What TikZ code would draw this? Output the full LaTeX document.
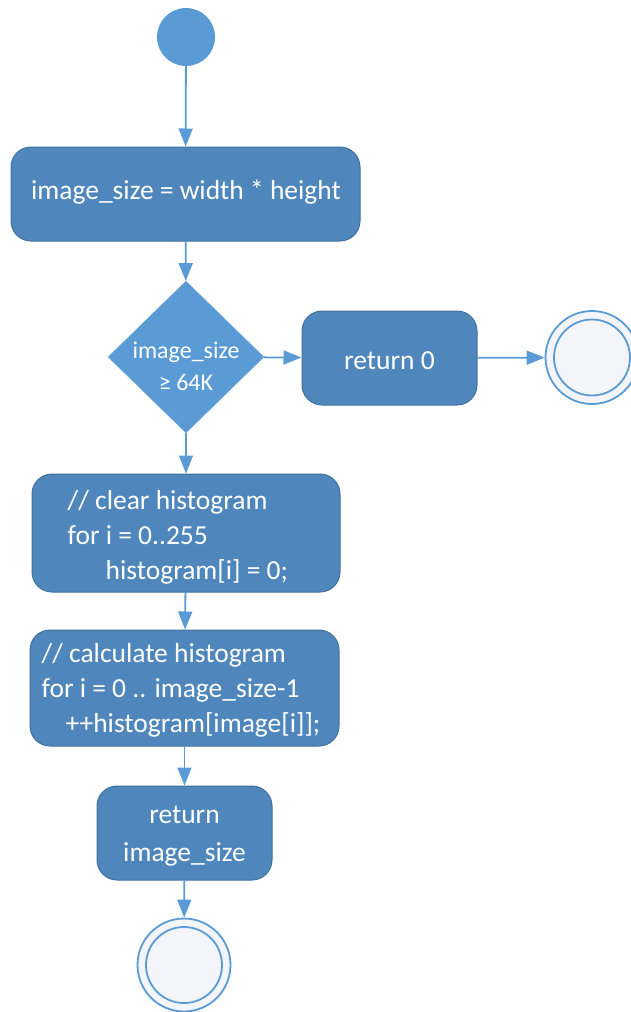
\documentclass[tikz,border=0pt]{standalone}
\usepackage{fontspec}
\setmainfont{Carlito}
\usetikzlibrary{arrows.meta,shapes.geometric}
\definecolor{boxfill}{HTML}{4F87BD}
\definecolor{boxline}{HTML}{41719C}
\definecolor{lightblue}{HTML}{5B9BD5}
\definecolor{endfill}{HTML}{F3F5FB}
\tikzset{
  box/.style={draw=boxline, line width=1pt, fill=boxfill, rounded corners=20pt, inner sep=0pt},
  txt/.style={text=white, inner sep=0pt, font=\fontsize{27.5}{35}\selectfont},
  flow/.style={draw=lightblue, line width=1.8pt, -{Triangle[length=18pt,width=14pt]}},
  dec/.style={diamond, draw=lightblue!80!white, fill=lightblue, inner sep=0pt, minimum width=156pt, minimum height=152pt},
  dectxt/.style={text=white, align=center, inner sep=0pt, font=\fontsize{24}{32}\selectfont},
  startnode/.style={circle, fill=lightblue, minimum size=58pt, inner sep=0pt},
  endouter/.style={circle, draw=lightblue, line width=1.8pt, fill=endfill, minimum size=93pt, inner sep=0pt},
  endinner/.style={circle, draw=lightblue, line width=1.8pt, minimum size=76pt, inner sep=0pt},
}
\begin{document}
\begin{tikzpicture}[x=1pt,y=-1pt]
\useasboundingbox (0,0) rectangle (631,1012);
\node[startnode] (s) at (186,37) {};
\node[box, minimum width=349pt, minimum height=94pt] (b1) at (185.5,194) {};
\node[txt] (t1) at (186,192) {image\_size = width * height};
\node[dec] (d) at (186,357) {};
\node[dectxt] (dt) at (186,366) {image\_size\\≥ 64K};
\node[box, minimum width=175pt, minimum height=94pt] (r0) at (389.5,358) {};
\node[txt] (tr0) at (389.5,361) {return 0};
\node[endouter] (e1) at (592,357.5) {};
\node[endinner] (e1i) at (e1) {};
\node[box, minimum width=308pt, minimum height=118pt] (b3) at (186,533) {};
\node[txt, anchor=west, align=left] (t3) at ([xshift=36pt,yshift=-4pt]b3.west) {// clear histogram\\for i = 0..255\\\hspace*{38pt}histogram[i] = 0;};
\node[box, minimum width=309pt, minimum height=116pt] (b4) at (184.5,688) {};
\node[txt, anchor=west, align=left] (t4) at ([xshift=12pt,yshift=-2pt]b4.west) {// calculate histogram\\for i = 0 .. image\_size-1\\\hspace*{24pt}++histogram[image[i]];};
\node[box, minimum width=175pt, minimum height=94pt] (b5) at (184.5,833) {};
\node[txt, align=center, font=\fontsize{27.5}{38}\selectfont] (t5) at (184.5,836) {return\\image\_size};
\node[endouter] (e2) at (184,965) {};
\node[endinner] (e2i) at (e2) {};
\draw[flow] (s) -- (b1);
\draw[flow] (b1) -- (d);
\draw[flow] (d) -- (r0);
\draw[flow] (r0) -- (e1);
\draw[flow] (d) -- (b3);
\draw[flow] (b3) -- (b4);
\draw[flow] (b4) -- (b5);
\draw[flow] (b5) -- (e2);
\end{tikzpicture}
\end{document}
